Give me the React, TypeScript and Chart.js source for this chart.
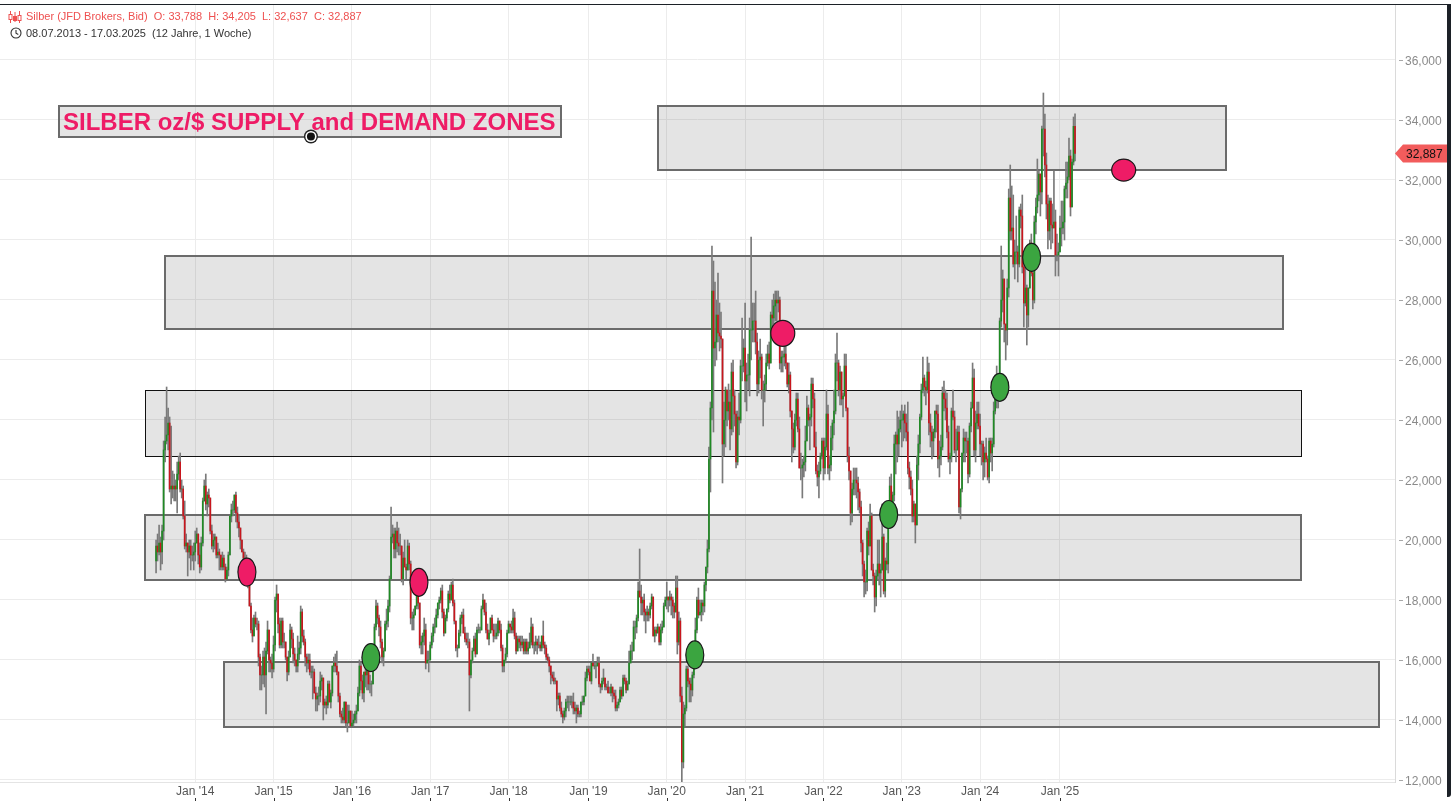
import React, { useEffect, useRef } from 'react';
import { Chart, registerables } from 'chart.js';

Chart.register(...registerables);

// ---------- DATA ----------
// Weekly candles of silver (JFD Brokers, Bid). Each week: [high, low, close].
// The open of a week is the close of the week before.
const firstDate = '2013-07-08';
const firstOpen = 19.3;

const w2013 = [
  [20.0, 18.9, 19.8], [20.2, 19.3, 19.6], [20.5, 19.5, 19.9], [20.1, 19.0, 19.6],
  [20.5, 19.2, 20.3], [23.3, 20.0, 23.0], [24.1, 22.6, 23.3], [25.1, 23.2, 23.5],
  [24.4, 23.0, 23.9], [24.1, 21.6, 21.7], [23.8, 21.2, 21.8], [22.3, 21.4, 21.7], [22.2, 21.3, 21.8],
  [22.0, 21.3, 21.7], [22.6, 20.9, 22.2], [22.8, 22.0, 22.6], [22.9, 21.6, 21.7],
  [22.0, 21.4, 21.7], [21.8, 20.7, 20.8], [21.3, 19.7, 19.8], [20.2, 19.6, 19.9],
  [19.8, 18.8, 19.6], [20.0, 19.4, 19.8], [20.0, 19.0, 19.5], [19.8, 19.3, 19.5], [19.9, 19.0, 19.6],
];
const w2014 = [
  [20.3, 19.3, 19.9], [20.4, 19.9, 20.2], [20.1, 19.2, 19.5], [19.9, 18.9, 19.1],
  [20.1, 19.0, 19.9], [21.4, 19.8, 21.3], [22.0, 21.3, 21.8], [22.2, 21.0, 21.2],
  [21.6, 20.8, 21.5], [21.7, 21.1, 21.4], [21.4, 20.2, 20.3], [20.5, 19.7, 19.8], [20.2, 19.6, 20.0],
  [20.2, 19.7, 20.1], [20.0, 19.4, 19.5], [19.9, 19.4, 19.6], [19.7, 19.0, 19.5],
  [19.5, 19.0, 19.1], [19.6, 19.0, 19.4], [19.5, 19.0, 19.1], [19.2, 18.6, 18.7],
  [19.1, 18.7, 19.0], [19.6, 18.8, 19.5], [20.8, 19.5, 20.8], [21.2, 20.6, 21.0], [21.3, 20.8, 21.0],
  [21.5, 20.9, 21.5], [21.6, 20.6, 20.9], [21.1, 20.4, 20.6], [20.8, 20.1, 20.4],
  [20.3, 19.7, 20.0], [20.0, 19.6, 19.6], [19.7, 19.2, 19.4], [19.6, 19.2, 19.4],
  [19.5, 18.9, 19.1], [19.1, 18.4, 18.6], [18.9, 17.8, 17.8], [17.9, 16.9, 17.0], [17.4, 16.6, 16.8],
  [17.5, 16.8, 17.4], [17.6, 17.1, 17.2], [17.4, 17.0, 17.2], [17.3, 15.8, 16.1],
  [16.2, 15.0, 15.5], [15.8, 15.0, 15.5], [16.3, 15.2, 16.1], [16.4, 15.1, 15.5],
  [16.6, 14.2, 16.3], [17.3, 16.2, 17.0], [17.0, 15.6, 16.0], [16.1, 15.6, 15.9], [16.2, 15.4, 15.7],
];
const w2015 = [
  [16.8, 15.6, 16.5], [18.1, 16.3, 18.0], [18.5, 17.6, 18.2], [18.2, 16.9, 17.2],
  [17.4, 16.4, 16.5], [17.4, 16.4, 17.3], [17.4, 16.4, 16.6], [16.9, 16.4, 16.6],
  [16.6, 16.0, 16.1], [16.0, 15.3, 15.6], [16.3, 15.5, 16.1], [17.2, 16.1, 17.0], [17.1, 16.4, 16.7],
  [16.9, 15.9, 16.2], [16.4, 15.8, 16.0], [16.0, 15.6, 15.8], [16.8, 15.6, 16.2],
  [16.6, 16.0, 16.4], [17.8, 16.2, 17.6], [17.7, 16.6, 16.8], [17.0, 16.5, 16.6],
  [16.7, 15.8, 16.1], [16.2, 15.6, 15.9], [16.2, 15.7, 16.0], [16.2, 15.5, 15.6], [15.8, 15.4, 15.6],
  [15.8, 14.7, 15.6], [15.7, 14.9, 14.9], [15.1, 14.3, 14.7], [14.9, 14.3, 14.8],
  [15.1, 14.5, 14.8], [15.6, 14.6, 15.3], [15.5, 15.0, 15.4], [15.4, 14.0, 14.5], [14.7, 14.4, 14.6],
  [14.8, 14.2, 14.5], [15.3, 14.4, 15.2], [15.3, 14.6, 14.6], [15.0, 14.4, 14.9],
  [15.8, 14.8, 15.8], [16.1, 15.6, 15.9], [16.2, 15.6, 15.8], [16.3, 15.5, 15.6],
  [15.6, 14.6, 14.8], [14.9, 14.1, 14.2], [14.3, 13.9, 14.1], [14.4, 13.9, 14.0], [14.6, 13.9, 14.6],
  [14.6, 13.8, 13.9], [14.5, 13.6, 13.9], [14.5, 13.9, 14.3], [14.3, 13.8, 13.8],
];
const w2016 = [
  [14.3, 13.8, 13.9], [14.2, 13.8, 14.0], [14.3, 13.9, 14.2], [14.5, 13.9, 14.3],
  [15.1, 14.3, 14.9], [16.0, 14.8, 15.8], [15.9, 15.0, 15.3], [15.5, 14.7, 14.9], [15.6, 14.6, 15.6],
  [15.8, 15.1, 15.5], [15.9, 15.0, 15.8], [15.8, 15.0, 15.2], [15.5, 14.9, 15.2],
  [15.3, 14.8, 15.2], [16.3, 15.2, 16.2], [17.2, 16.1, 17.1], [18.0, 17.0, 17.8],
  [17.9, 17.2, 17.4], [17.5, 16.8, 17.1], [17.3, 16.4, 16.6], [16.7, 15.9, 16.1], [16.4, 15.8, 16.3],
  [17.3, 16.3, 17.2], [17.7, 17.0, 17.3], [18.0, 17.1, 17.8], [18.8, 17.6, 18.7],
  [21.1, 18.7, 20.1], [20.5, 19.9, 20.2], [20.4, 19.4, 19.7], [20.4, 19.4, 20.3],
  [20.6, 19.6, 19.9], [20.4, 19.5, 19.8], [20.2, 19.5, 19.8], [19.8, 18.6, 18.7], [19.6, 18.5, 19.4],
  [20.0, 19.1, 19.1], [19.2, 18.7, 19.0], [20.0, 19.0, 19.8], [19.9, 19.0, 19.2],
  [19.3, 17.2, 17.4], [17.6, 17.0, 17.4], [17.7, 17.0, 17.5], [17.8, 17.5, 17.8], [18.4, 17.7, 18.3],
  [18.9, 17.7, 17.9], [17.9, 16.4, 16.5], [16.8, 16.2, 16.6], [16.9, 16.2, 16.8],
  [17.4, 16.5, 17.0], [17.2, 15.7, 15.9], [16.3, 15.9, 16.0], [16.3, 15.6, 16.0],
];
const w2017 = [
  [16.6, 16.0, 16.5], [16.9, 16.4, 16.8], [17.2, 16.6, 17.1], [17.4, 16.9, 17.1], [17.7, 17.1, 17.5],
  [17.9, 17.4, 17.9], [18.1, 17.7, 18.0], [18.4, 17.9, 18.3], [18.5, 17.4, 17.6],
  [17.7, 16.8, 16.9], [17.5, 16.9, 17.4], [17.7, 17.3, 17.7], [18.3, 17.6, 18.2],
  [18.5, 17.9, 18.0], [18.6, 18.0, 18.5], [18.7, 17.8, 17.9], [18.0, 17.2, 17.3],
  [17.3, 16.3, 16.4], [16.5, 16.1, 16.4], [17.0, 16.4, 16.9], [17.5, 16.8, 17.4], [17.6, 17.2, 17.5],
  [17.7, 16.9, 16.9], [17.1, 16.6, 16.7], [16.9, 16.5, 16.6], [16.9, 16.4, 16.6],
  [16.7, 14.3, 15.5], [16.0, 15.4, 16.0], [16.4, 15.9, 16.3], [16.8, 16.3, 16.7], [16.9, 16.1, 16.2],
  [17.1, 16.2, 17.0], [17.2, 16.9, 17.0], [17.1, 16.9, 17.0], [17.8, 17.1, 17.7],
  [18.2, 17.7, 18.0], [18.0, 17.5, 17.6], [17.9, 16.9, 17.0], [17.2, 16.7, 16.7],
  [17.0, 16.5, 16.9], [17.4, 16.9, 17.4], [17.5, 17.0, 17.0], [17.2, 16.6, 16.8], [17.2, 16.7, 16.8],
  [17.2, 16.7, 16.9], [17.4, 16.8, 17.3], [17.2, 16.9, 17.0], [17.2, 16.3, 16.4],
  [16.5, 15.6, 15.8], [16.0, 15.6, 16.0], [16.4, 15.9, 16.2], [17.0, 16.1, 16.9],
];
const w2018 = [
  [17.3, 16.9, 17.2], [17.2, 16.9, 17.1], [17.3, 16.9, 17.0], [17.7, 16.9, 17.4], [17.6, 16.7, 16.8],
  [16.9, 16.2, 16.3], [16.8, 16.3, 16.7], [16.8, 16.4, 16.6], [16.8, 16.3, 16.5],
  [16.8, 16.4, 16.6], [16.7, 16.2, 16.3], [16.7, 16.2, 16.6], [16.7, 16.2, 16.3],
  [16.6, 16.2, 16.4], [16.9, 16.4, 16.6], [17.4, 16.5, 17.1], [17.2, 16.4, 16.5], [16.6, 16.2, 16.5],
  [16.8, 16.3, 16.6], [16.7, 16.2, 16.5], [16.8, 16.4, 16.5], [16.6, 16.3, 16.4],
  [16.8, 16.3, 16.8], [17.3, 16.4, 16.5], [16.6, 16.2, 16.4], [16.5, 16.0, 16.1],
  [16.2, 15.9, 16.0], [16.1, 15.6, 15.8], [15.8, 15.2, 15.5], [15.6, 15.3, 15.4], [15.6, 15.2, 15.3],
  [15.4, 15.2, 15.3], [15.3, 14.3, 14.7], [14.9, 14.5, 14.8], [14.9, 14.3, 14.4],
  [14.6, 14.1, 14.2], [14.3, 13.9, 14.1], [14.4, 14.0, 14.3], [14.7, 14.1, 14.6],
  [14.8, 14.4, 14.6], [14.8, 14.3, 14.6], [14.8, 14.5, 14.6], [14.8, 14.4, 14.6], [14.9, 14.2, 14.4],
  [14.6, 14.2, 14.3], [14.5, 13.9, 14.4], [14.5, 14.1, 14.2], [14.3, 14.1, 14.2],
  [14.6, 14.1, 14.6], [14.8, 14.5, 14.6], [14.8, 14.5, 14.8], [15.6, 14.8, 15.4], [15.8, 15.3, 15.7],
];
const w2019 = [
  [15.8, 15.5, 15.6], [15.8, 15.3, 15.3], [15.9, 15.2, 15.9], [16.2, 15.8, 15.8],
  [15.9, 15.7, 15.8], [15.9, 15.4, 15.8], [16.1, 15.8, 15.9], [16.1, 15.1, 15.2],
  [15.2, 14.9, 15.1], [15.4, 15.0, 15.3], [15.7, 15.2, 15.4], [15.4, 15.0, 15.1],
  [15.2, 15.0, 15.1], [15.3, 14.9, 14.9], [15.1, 14.9, 14.9], [15.2, 14.8, 15.1], [15.1, 14.6, 14.9],
  [15.0, 14.7, 14.8], [15.0, 14.3, 14.4], [14.6, 14.3, 14.5], [14.7, 14.4, 14.6],
  [15.1, 14.6, 15.0], [15.1, 14.7, 14.8], [15.5, 14.8, 15.4], [15.5, 15.2, 15.3],
  [15.4, 14.9, 15.0], [15.3, 15.0, 15.2], [16.3, 15.2, 15.9], [16.5, 15.9, 16.3], [16.6, 16.0, 16.3],
  [17.3, 16.4, 17.1], [17.3, 16.7, 17.1], [17.5, 16.9, 17.4], [18.6, 17.3, 18.3],
  [19.7, 18.1, 18.1], [18.5, 17.5, 17.9], [18.1, 17.5, 18.0], [18.2, 17.3, 17.6], [17.7, 16.9, 17.5],
  [17.8, 17.3, 17.6], [17.7, 17.3, 17.5], [17.9, 17.4, 17.8], [18.2, 17.7, 18.1],
  [18.1, 16.8, 16.8], [17.1, 16.6, 17.0], [17.1, 16.8, 16.9], [17.2, 16.9, 17.1],
  [17.1, 16.5, 16.6], [17.2, 16.5, 17.0], [17.3, 16.9, 17.1], [17.9, 17.1, 17.8], [18.1, 17.8, 18.0],
];
const w2020 = [
  [18.6, 17.7, 18.1], [18.1, 17.6, 18.0], [18.3, 17.8, 18.1], [18.2, 17.5, 18.0],
  [18.1, 17.4, 17.8], [17.9, 17.4, 17.6], [18.8, 17.6, 18.4], [18.8, 16.2, 16.6],
  [17.6, 16.5, 17.3], [17.4, 14.6, 14.8], [15.1, 11.6, 12.6], [14.6, 12.4, 14.2], [14.5, 13.8, 14.4],
  [15.8, 14.3, 15.7], [15.8, 15.1, 15.3], [15.4, 14.6, 15.2], [15.4, 14.6, 15.0],
  [15.6, 14.8, 15.5], [16.4, 15.4, 16.4], [17.4, 16.4, 17.0], [18.1, 16.9, 18.0],
  [18.4, 17.4, 17.5], [18.0, 17.5, 17.6], [18.0, 17.3, 17.9], [18.0, 17.5, 17.8], [18.6, 17.6, 18.5],
  [19.1, 18.3, 19.1], [20.0, 18.9, 19.7], [23.1, 19.6, 22.7], [24.6, 21.6, 24.4],
  [29.8, 24.0, 28.3], [29.3, 23.6, 26.4], [28.6, 25.8, 26.6], [28.0, 26.0, 27.5], [28.9, 26.6, 26.9],
  [27.9, 26.3, 26.8], [27.6, 26.4, 26.7], [26.6, 21.9, 23.2], [24.6, 22.8, 24.0],
  [25.1, 23.1, 25.0], [25.0, 23.8, 24.3], [25.2, 24.0, 24.6], [25.0, 23.0, 23.7],
  [25.9, 23.5, 25.6], [26.0, 23.6, 24.8], [25.0, 23.8, 24.2], [24.3, 22.4, 22.6], [24.3, 22.5, 24.1],
  [24.9, 23.5, 24.0], [26.0, 23.9, 25.8], [27.4, 25.3, 25.8], [26.7, 25.6, 26.4],
];
const w2021 = [
  [27.9, 24.6, 25.3], [25.9, 24.3, 25.5], [26.2, 25.0, 25.5], [27.4, 24.8, 27.0],
  [30.1, 26.0, 27.0], [27.9, 26.6, 27.3], [27.9, 26.6, 27.3], [28.3, 26.2, 26.6],
  [26.9, 24.8, 25.2], [26.3, 24.9, 26.0], [26.7, 25.4, 26.1], [26.2, 24.7, 25.0], [25.3, 23.8, 25.0],
  [25.5, 24.6, 25.2], [26.2, 25.0, 25.9], [26.5, 25.8, 26.2], [26.6, 25.7, 25.9],
  [27.6, 25.9, 27.5], [28.0, 26.8, 27.4], [28.2, 27.2, 27.8], [28.3, 27.3, 28.0], [28.3, 27.3, 27.9],
  [28.3, 27.6, 28.0], [28.1, 25.7, 25.9], [26.3, 25.6, 26.1], [26.3, 25.6, 26.1],
  [26.6, 25.8, 26.2], [26.5, 25.7, 25.9], [25.9, 25.1, 25.2], [25.9, 24.9, 25.5],
  [25.6, 24.1, 24.3], [24.3, 22.6, 23.7], [23.9, 22.9, 23.1], [24.2, 23.0, 24.0], [24.9, 23.8, 24.7],
  [24.9, 23.6, 23.7], [24.1, 22.4, 22.4], [22.9, 22.0, 22.4], [22.7, 21.4, 22.5],
  [22.8, 22.1, 22.6], [23.8, 22.3, 23.3], [24.8, 23.3, 24.4], [24.5, 23.8, 24.0],
  [24.2, 23.0, 24.1], [25.4, 23.8, 25.2], [25.4, 24.4, 24.7], [24.9, 23.1, 23.1], [23.6, 22.2, 22.3],
  [22.5, 21.8, 22.1], [22.6, 21.4, 22.3], [22.9, 22.2, 22.8], [23.4, 22.7, 23.3],
];
const w2022 = [
  [23.4, 22.0, 22.4], [23.4, 22.2, 23.1], [25.0, 23.0, 24.2], [24.5, 22.2, 22.4], [22.8, 22.0, 22.5],
  [23.8, 22.3, 23.4], [24.0, 23.0, 23.9], [25.0, 23.5, 24.3], [26.2, 24.2, 25.9],
  [26.9, 25.3, 25.9], [26.0, 24.8, 25.0], [25.8, 24.5, 25.6], [25.6, 24.5, 24.7],
  [24.9, 24.1, 24.8], [26.2, 24.8, 25.8], [26.2, 24.3, 24.4], [24.4, 22.6, 22.8],
  [23.1, 22.0, 22.3], [22.3, 20.5, 20.9], [21.9, 20.6, 21.7], [22.4, 21.5, 22.0], [22.4, 21.5, 22.0],
  [22.4, 21.4, 21.9], [22.1, 21.0, 21.6], [21.7, 20.9, 21.1], [21.3, 19.6, 19.9],
  [20.0, 18.8, 19.2], [19.3, 18.1, 18.6], [19.0, 18.2, 18.6], [20.4, 18.3, 20.3],
  [20.6, 19.5, 19.8], [21.2, 19.9, 20.8], [20.9, 19.0, 19.0], [19.2, 18.5, 18.8], [18.9, 17.6, 18.1],
  [19.0, 17.8, 18.8], [20.0, 18.7, 19.2], [20.0, 18.5, 18.9], [19.2, 18.1, 19.0],
  [21.2, 19.1, 20.1], [20.2, 18.2, 18.3], [19.4, 18.1, 19.3], [19.9, 19.0, 19.2], [21.0, 18.9, 20.9],
  [22.1, 20.8, 21.8], [22.2, 20.8, 21.0], [21.6, 20.7, 21.5], [23.5, 21.3, 23.2],
  [23.6, 22.2, 23.5], [24.3, 22.6, 23.2], [24.1, 22.8, 23.7], [24.3, 23.6, 24.0],
];
const w2023 = [
  [24.5, 23.1, 24.0], [24.3, 23.3, 24.2], [24.5, 23.4, 23.9], [24.2, 23.3, 23.6], [24.6, 22.2, 22.4],
  [22.6, 21.7, 22.1], [22.3, 21.5, 21.7], [22.0, 20.6, 20.8], [21.3, 20.6, 21.2],
  [21.2, 19.9, 20.5], [22.8, 20.5, 22.5], [23.5, 22.0, 23.2], [24.2, 22.9, 24.1],
  [25.2, 24.0, 25.0], [26.1, 24.9, 25.4], [25.5, 24.8, 25.1], [25.3, 24.5, 25.0],
  [26.1, 24.9, 25.6], [25.9, 23.5, 23.9], [24.2, 23.1, 23.6], [23.8, 22.7, 23.3], [23.7, 22.8, 23.6],
  [24.3, 23.4, 24.3], [24.5, 23.6, 24.2], [24.5, 22.4, 22.7], [23.3, 22.1, 22.8],
  [23.5, 22.5, 23.1], [25.1, 23.0, 24.9], [25.3, 24.3, 24.7], [25.0, 24.0, 24.4], [24.9, 23.4, 23.6],
  [23.8, 22.6, 22.7], [22.9, 22.2, 22.8], [24.4, 22.6, 24.3], [25.0, 24.0, 24.1],
  [24.3, 22.9, 23.0], [23.7, 22.6, 23.0], [23.8, 23.0, 23.6], [23.8, 20.9, 21.1],
  [21.7, 20.7, 21.7], [22.9, 21.6, 22.9], [23.7, 22.6, 23.4], [23.6, 22.6, 23.3], [23.6, 22.9, 23.3],
  [23.4, 21.9, 22.2], [23.9, 22.1, 23.8], [24.6, 23.6, 24.4], [25.9, 24.4, 25.4],
  [25.7, 22.8, 23.0], [24.3, 22.6, 23.9], [24.6, 23.7, 24.2], [24.6, 23.7, 23.8],
];
const w2024 = [
  [24.2, 22.8, 23.2], [23.3, 22.5, 23.2], [23.3, 22.0, 22.6], [23.1, 22.1, 22.9], [23.4, 22.6, 22.7],
  [22.8, 22.0, 22.1], [23.4, 21.9, 23.3], [23.4, 22.6, 22.9], [23.4, 22.3, 23.2],
  [24.6, 23.1, 24.3], [25.5, 24.2, 25.2], [25.8, 24.4, 24.7], [25.1, 24.4, 24.9],
  [27.4, 24.9, 27.3], [29.8, 27.1, 28.0], [29.0, 27.6, 28.7], [28.7, 26.6, 27.2], [27.2, 26.0, 27.0],
  [28.7, 26.5, 28.4], [31.7, 28.1, 31.4], [32.5, 30.0, 30.3], [31.8, 30.0, 30.4],
  [31.5, 29.1, 29.2], [30.0, 28.7, 29.6], [30.8, 29.2, 29.6], [29.8, 28.6, 29.2],
  [31.1, 29.1, 31.0], [31.2, 30.4, 30.8], [31.5, 28.9, 29.1], [29.3, 27.1, 27.9], [29.2, 27.8, 28.4],
  [28.5, 26.5, 27.5], [28.4, 27.1, 28.4], [30.0, 28.6, 29.9], [30.2, 28.8, 28.9],
  [29.1, 27.7, 28.0], [30.8, 27.9, 30.6], [31.4, 30.2, 31.1], [32.7, 30.9, 31.5], [32.3, 31.3, 32.2],
  [32.2, 30.8, 31.6], [33.8, 31.2, 33.7], [34.9, 32.8, 33.7], [34.2, 32.1, 32.5],
  [32.9, 30.7, 31.2], [31.5, 29.7, 30.3], [31.4, 30.0, 31.3], [31.4, 29.7, 30.5],
  [31.2, 29.9, 30.4], [32.3, 30.4, 30.6], [31.0, 28.8, 29.5], [30.2, 29.3, 29.5], [29.9, 28.8, 29.6],
];
const w2025 = [
  [30.8, 29.6, 30.4], [31.3, 29.8, 30.4], [31.3, 30.2, 30.6], [31.8, 30.0, 31.7],
  [32.6, 31.4, 31.9], [32.6, 31.4, 32.1], [33.4, 32.0, 32.8], [33.0, 30.8, 31.1],
  [32.7, 31.2, 32.6], [34.1, 32.5, 33.788], [34.205, 32.637, 32.887],
];

const yearWeeks = [w2013, w2014, w2015, w2016, w2017, w2018, w2019, w2020, w2021, w2022, w2023, w2024, w2025];

// x-axis ticks (week index of the first week of each year) and labels
const xTickWeeks = [26, 78, 130, 182, 234, 287, 339, 391, 443, 495, 547, 600];
const xTickLabels = ["Jan '14", "Jan '15", "Jan '16", "Jan '17", "Jan '18", "Jan '19", "Jan '20", "Jan '21", "Jan '22", "Jan '23", "Jan '24", "Jan '25"];
const yTickValues = [12, 14, 16, 18, 20, 22, 24, 26, 28, 30, 32, 34, 36];

// supply / demand zones (week index range, price range)
const zoneFromWeek = [333.0, 5.9, -7.4, -7.4, 44.8];
const zoneToWeek = [709.9, 747.8, 759.7, 759.7, 812.1];
const zoneHigh = [34.48, 29.46, 24.99, 20.84, 15.94];
const zoneLow = [32.33, 27.04, 22.79, 18.65, 13.76];

// markers (week index, price, kind)
const markerWeek = [60.3, 142.6, 174.5, 357.6, 416.0, 486.3, 560.1, 581.2, 642.3];
const markerPrice = [18.93, 16.08, 18.59, 16.17, 26.89, 20.85, 25.09, 29.42, 32.33];
const markerKind = ['supply', 'demand', 'supply', 'demand', 'supply', 'demand', 'demand', 'demand', 'supply'];

// title annotation box (week range, price range) and its anchor point
const titleText = 'SILBER oz/$ SUPPLY and DEMAND ZONES';
const titleFromWeek = -64.4;
const titleToWeek = 268.7;
const titleHigh = 34.48;
const titleLow = 33.44;
const anchorWeek = 102.8;
const anchorPrice = 33.45;

// visible axis ranges
const X_MIN = -103.6;
const X_MAX = 822.4;
const Y_MIN = 11.9333;
const Y_MAX = 37.8333;

// ---------- STYLES ----------
const W = 1451;
const H = 803;
const FONT = "'Liberation Sans', Arial, Helvetica, sans-serif";
const UP = '#1f8a24';
const DOWN = '#c8161d';
const WICK = '#7a7a7a';
const GRID = '#ececec';
const ZONE_FILL = 'rgba(0,0,0,0.105)';
const ZONE_STROKE = [
  { w: 2, c: '#6b6b6b' },
  { w: 2, c: '#6b6b6b' },
  { w: 1, c: '#111111' },
  { w: 2, c: '#6b6b6b' },
  { w: 2, c: '#6b6b6b' },
];
const MARKER_RX = [9, 9, 9, 9, 12, 9, 9, 9, 12];
const MARKER_RY = [14, 14, 14, 14, 13, 14, 14, 14, 11];
const PINK = '#ee1c66';
const GREEN = '#3ba540';
const HEADER_RED = '#ee5050';

// ---------- DERIVED ----------
type Candle = { i: number; o: number; h: number; l: number; c: number };
const weeks = yearWeeks.flat();
const candles: Candle[] = weeks.map((w, i) => {
  const o = i === 0 ? firstOpen : weeks[i - 1][2];
  return { i, o, h: Math.max(w[0], o, w[2]), l: Math.min(w[1], o, w[2]), c: w[2] };
});
const last = candles[candles.length - 1];
const fmt = (v: number) => v.toFixed(3).replace('.', ',');
const fmtDate = (d: Date) =>
  `${String(d.getUTCDate()).padStart(2, '0')}.${String(d.getUTCMonth() + 1).padStart(2, '0')}.${d.getUTCFullYear()}`;
const startD = new Date(firstDate + 'T00:00:00Z');
const endD = new Date(startD.getTime() + (candles.length - 1) * 7 * 86400000);

const zonePlugin = {
  id: 'zones',
  beforeDatasetsDraw(chart: any) {
    const { ctx, scales } = chart;
    const x = scales.x, y = scales.y;
    ctx.save();
    zoneFromWeek.forEach((x0, k) => {
      const L = Math.round(x.getPixelForValue(x0));
      const R = Math.round(x.getPixelForValue(zoneToWeek[k]));
      const T = Math.round(y.getPixelForValue(zoneHigh[k]));
      const B = Math.round(y.getPixelForValue(zoneLow[k]));
      ctx.fillStyle = ZONE_FILL;
      ctx.fillRect(L, T, R - L, B - T);
      const st = ZONE_STROKE[k];
      const off = st.w % 2 ? 0.5 : 0;
      ctx.lineWidth = st.w;
      ctx.strokeStyle = st.c;
      ctx.strokeRect(L + off, T + off, R - L, B - T);
    });
    ctx.restore();
  },
};

const overlayPlugin = {
  id: 'overlay',
  afterDatasetsDraw(chart: any) {
    const { ctx, scales } = chart;
    const x = scales.x, y = scales.y;
    ctx.save();
    // markers
    markerWeek.forEach((mw, k) => {
      const px = x.getPixelForValue(mw);
      const py = y.getPixelForValue(markerPrice[k]);
      ctx.beginPath();
      ctx.ellipse(px, py, MARKER_RX[k], MARKER_RY[k], 0, 0, Math.PI * 2);
      ctx.fillStyle = markerKind[k] === 'supply' ? PINK : GREEN;
      ctx.fill();
      ctx.lineWidth = 1.2;
      ctx.strokeStyle = '#1a1a1a';
      ctx.stroke();
    });
    // title box
    const L = Math.round(x.getPixelForValue(titleFromWeek));
    const R = Math.round(x.getPixelForValue(titleToWeek));
    const T = Math.round(y.getPixelForValue(titleHigh));
    const B = Math.round(y.getPixelForValue(titleLow));
    ctx.fillStyle = 'rgba(0,0,0,0.105)';
    ctx.fillRect(L, T, R - L, B - T);
    ctx.lineWidth = 2;
    ctx.strokeStyle = '#6b6b6b';
    ctx.strokeRect(L, T, R - L, B - T);
    ctx.font = `bold 24px ${FONT}`;
    ctx.fillStyle = PINK;
    ctx.textAlign = 'left';
    ctx.textBaseline = 'alphabetic';
    ctx.fillText(titleText, L + 4, (T + B) / 2 + 8.6);
    // anchor dot
    const ax = x.getPixelForValue(anchorWeek);
    const ay = y.getPixelForValue(anchorPrice);
    ctx.beginPath(); ctx.arc(ax, ay, 7, 0, Math.PI * 2); ctx.fillStyle = '#222'; ctx.fill();
    ctx.beginPath(); ctx.arc(ax, ay, 5.6, 0, Math.PI * 2); ctx.fillStyle = '#fff'; ctx.fill();
    ctx.beginPath(); ctx.arc(ax, ay, 4, 0, Math.PI * 2); ctx.fillStyle = '#111'; ctx.fill();
    ctx.restore();
  },
  afterDraw(chart: any) {
    const { ctx, scales, chartArea } = chart;
    const x = scales.x, y = scales.y;
    ctx.save();
    // small tick dashes of the price axis
    ctx.fillStyle = '#a8a8a8';
    yTickValues.forEach((v) => {
      const py = Math.round(y.getPixelForValue(v));
      ctx.fillRect(chartArea.right + 4, py, 4, 1);
    });
    // small ticks under the time labels
    ctx.fillStyle = '#333';
    xTickWeeks.forEach((wk) => {
      const px = Math.round(x.getPixelForValue(wk));
      ctx.fillRect(px, H - 5, 1, 3);
    });
    // last price tag
    const py = y.getPixelForValue(last.c);
    const left = chartArea.right;
    ctx.beginPath();
    ctx.moveTo(left, py);
    ctx.lineTo(left + 8, py - 9);
    ctx.lineTo(W - 3, py - 9);
    ctx.lineTo(W - 3, py + 9);
    ctx.lineTo(left + 8, py + 9);
    ctx.closePath();
    ctx.fillStyle = '#f25c5c';
    ctx.fill();
    ctx.font = `12px ${FONT}`;
    ctx.fillStyle = '#111';
    ctx.textAlign = 'left';
    ctx.textBaseline = 'middle';
    ctx.fillText(fmt(last.c), left + 11, py + 1);
    ctx.restore();
  },
};

export default function App() {
  const ref = useRef<HTMLCanvasElement | null>(null);

  useEffect(() => {
    if (!ref.current) return;
    const chart = new Chart(ref.current, {
      type: 'bar',
      data: {
        datasets: [
          {
            label: 'body',
            data: candles.map((k) => ({ x: k.i, y: [k.o, k.c] })) as any,
            backgroundColor: candles.map((k) => (k.c >= k.o ? UP : DOWN)),
            barThickness: 1,
            grouped: false,
            order: 0,
          } as any,
          {
            label: 'wick',
            data: candles.map((k) => ({ x: k.i, y: [k.l, k.h] })) as any,
            backgroundColor: WICK,
            barThickness: 1,
            grouped: false,
            order: 1,
          } as any,
        ],
      },
      options: {
        animation: false,
        responsive: false,
        maintainAspectRatio: false,
        devicePixelRatio: 1,
        layout: { padding: { top: 5, left: 0, right: 0, bottom: 0 } },
        plugins: { legend: { display: false }, tooltip: { enabled: false }, title: { display: false } },
        scales: {
          x: {
            type: 'linear',
            min: X_MIN,
            max: X_MAX,
            offset: false,
            grid: { color: GRID, drawTicks: false, offset: false },
            border: { color: '#e4e4e4' },
            ticks: {
              autoSkip: false,
              maxRotation: 0,
              padding: 2,
              color: '#555',
              font: { family: FONT, size: 12 },
              callback: (_v: any, idx: number) => xTickLabels[idx],
            },
            afterBuildTicks: (s: any) => {
              s.ticks = xTickWeeks.map((v) => ({ value: v }));
            },
            afterFit: (s: any) => {
              s.height = 21;
              s.paddingLeft = 0;
              s.paddingRight = 0;
            },
          } as any,
          y: {
            type: 'linear',
            position: 'right',
            min: Y_MIN,
            max: Y_MAX,
            grid: { color: GRID, drawTicks: false },
            border: { color: '#dadada' },
            ticks: {
              padding: 10,
              labelOffset: 1.5,
              color: '#8a8a8a',
              font: { family: FONT, size: 12 },
              callback: (v: any) => fmt(Number(v)),
            },
            afterBuildTicks: (s: any) => {
              s.ticks = yTickValues.map((v) => ({ value: v }));
            },
            afterFit: (s: any) => {
              s.width = 56;
              s.paddingTop = 0;
              s.paddingBottom = 0;
            },
          } as any,
        },
      },
      plugins: [zonePlugin, overlayPlugin],
    });
    return () => chart.destroy();
  }, []);

  return (
    <div
      style={{
        position: 'absolute',
        left: 0,
        top: 0,
        width: W,
        height: H,
        background: '#fff',
        overflow: 'hidden',
        fontFamily: FONT,
      }}
    >
      <canvas ref={ref} width={W} height={H} style={{ position: 'absolute', left: 0, top: 0, width: W, height: H }} />
      {/* frame */}
      <div style={{ position: 'absolute', left: 0, top: 4, width: W, height: 1, background: '#1c2127' }} />
      <div
        style={{
          position: 'absolute',
          left: W - 4,
          top: 4,
          width: 4,
          height: 793,
          background: '#1c2127',
          borderBottomRightRadius: 3,
        }}
      />
      {/* header line 1 */}
      <svg style={{ position: 'absolute', left: 8, top: 11 }} width={14} height={12} viewBox="0 0 14 12">
        <g stroke={HEADER_RED} strokeWidth={1} fill="none">
          <line x1={2.5} y1={0} x2={2.5} y2={12} />
          <rect x={1} y={3.5} width={3} height={5} fill="#fff" />
          <line x1={7} y1={1} x2={7} y2={11} />
          <rect x={5.5} y={5.5} width={3} height={4} fill={HEADER_RED} />
          <line x1={11.5} y1={0} x2={11.5} y2={12} />
          <rect x={10} y={4.5} width={3} height={5} fill="#fff" />
        </g>
      </svg>
      <div
        style={{
          position: 'absolute',
          left: 26,
          top: 10,
          fontSize: 11,
          lineHeight: '13px',
          color: HEADER_RED,
          whiteSpace: 'pre',
        }}
      >
        {`Silber (JFD Brokers, Bid)  O: ${fmt(last.o)}  H: ${fmt(last.h)}  L: ${fmt(last.l)}  C: ${fmt(last.c)}`}
      </div>
      {/* header line 2 */}
      <svg style={{ position: 'absolute', left: 10, top: 27 }} width={12} height={12} viewBox="0 0 12 12">
        <circle cx={6} cy={6} r={5} stroke="#333" strokeWidth={1.1} fill="none" />
        <polyline points="6,3 6,6.3 8.3,7.6" stroke="#333" strokeWidth={1.1} fill="none" />
      </svg>
      <div
        style={{
          position: 'absolute',
          left: 26,
          top: 27,
          fontSize: 11,
          lineHeight: '13px',
          color: '#333',
          whiteSpace: 'pre',
        }}
      >
        {`${fmtDate(startD)} - ${fmtDate(endD)}  (12 Jahre, 1 Woche)`}
      </div>
    </div>
  );
}
